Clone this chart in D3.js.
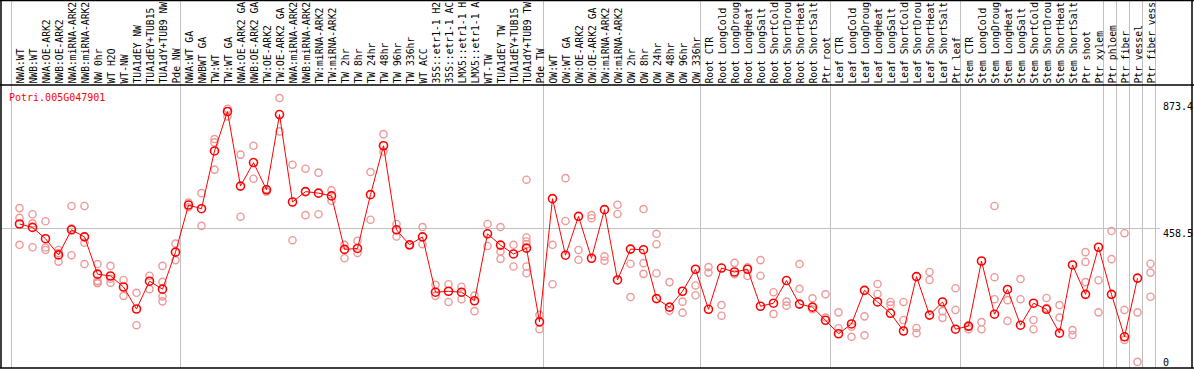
<!DOCTYPE html>
<html>
<head>
<meta charset="utf-8">
<script src="https://cdn.jsdelivr.net/npm/d3@7"></script>
<style>
  html, body { margin: 0; padding: 0; background: #fff; }
  svg { display: block; font-family: "DejaVu Sans Mono", monospace; }
</style>
</head>
<body>
<div id="chart"></div>
<script>
// expression of one gene across samples
const geneName = 'Potri.005G047901';

// labels as they show in the header (cut to 14 characters)
const samples = [
  'NWA:WT', 'NWB:WT', 'NWA:OE-ARK2', 'NWB:OE-ARK2', 'NWA:miRNA-ARK2', 'NWB:miRNA-ARK2',
  'NW 0hr', 'WT H2O', 'WT-NW', 'TUA1dEY NW', 'TUA1dEY+TUB15', 'TUA1dY+TUB9 NW', 'Pde NW',
  'NWA:WT GA', 'NWBWT GA', 'TW:WT', 'TW:WT GA', 'NWA:OE-ARK2 GA', 'NWB:OE-ARK2 GA',
  'TW:OE-ARK2', 'TW:OE-ARK2 GA', 'NWA:miRNA-ARK2', 'NWB:miRNA-ARK2', 'TW:miRNA-ARK2',
  'TW:miRNA-ARK2', 'TW 2hr', 'TW 8hr', 'TW 24hr', 'TW 48hr', 'TW 96hr', 'TW 336hr',
  'WT ACC', '35S::etr1-1 H2', '35S::etr1-1 AC', 'LMX5::etr1-1 H', 'LMX5::etr1-1 A',
  'WT-TW', 'TUA1dEY TW', 'TUA1dEY+TUB15', 'TUA1dY+TUB9 TW', 'Pde TW',
  'OW:WT', 'OW:WT GA', 'OW:OE-ARK2', 'OW:OE-ARK2 GA', 'OW:miRNA-ARK2', 'OW:miRNA-ARK2',
  'OW 2hr', 'OW 8hr', 'OW 24hr', 'OW 48hr', 'OW 96hr', 'OW 336hr',
  'Root CTR', 'Root LongCold', 'Root LongDroug', 'Root LongHeat', 'Root LongSalt',
  'Root ShortCold', 'Root ShortDrou', 'Root ShortHeat', 'Root ShortSalt', 'Ptr root',
  'Leaf CTR', 'Leaf LongCold', 'Leaf LongDroug', 'Leaf LongHeat', 'Leaf LongSalt',
  'Leaf ShortCold', 'Leaf ShortDrou', 'Leaf ShortHeat', 'Leaf ShortSalt', 'Ptr leaf',
  'Stem CTR', 'Stem LongCold', 'Stem LongDroug', 'Stem LongHeat', 'Stem LongSalt',
  'Stem ShortCold', 'Stem ShortDrou', 'Stem ShortHeat', 'Stem ShortSalt',
  'Ptr shoot', 'Ptr xylem', 'Ptr phloem', 'Ptr fiber', 'Ptr vessel', 'Ptr fiber vess'
];

const means = [
  471, 460, 423, 370, 452, 429, 307, 301, 265, 193, 284, 258, 379,
  533, 521, 710, 839, 595, 672, 583, 829, 543, 577, 572, 563, 388, 391, 567, 727,
  452, 403, 429, 248, 251, 248, 220, 439, 402, 373, 392, 151,
  554, 369, 496, 359, 518, 288, 389, 387, 227, 199, 251, 323,
  192, 327, 314, 323, 202, 212, 286, 209, 199, 156,
  112, 144, 254, 216, 179, 121, 299, 173, 216, 127,
  137, 350, 176, 257, 140, 212, 192, 114, 337,
  241, 395, 241, 102, 294
];

const replicates = [
  [523, 491, 403], [503, 473, 395], [480, 394, 386], [386, 348, 376], [530, 369, 457],
  [530, 410, 340], [340, 285, 279, 277], [334, 279, 292], [288, 236], [246, 140],
  [302, 258], [334, 282, 234, 218], [407, 353],
  [541, 526], [572, 465], [749, 738, 649], [848, 823], [698, 495], [727, 619],
  [585, 577], [883, 774], [665, 418], [652, 500], [639, 503], [581, 547],
  [403, 359], [416, 376], [641, 485], [765, 708], [471, 430], [403, 400],
  [461, 405], [272, 236], [274, 216], [266, 225], [237, 186],
  [471, 399], [461, 381, 357], [403, 332], [616, 427, 414, 405, 332, 310], [174, 127],
  [403, 274], [621, 481], [386, 354], [500, 490], [365, 351], [534, 504],
  [341, 232], [520, 343, 308], [439, 405, 310], [281, 187], [217, 181], [270, 238],
  [312, 330], [206, 171], [344, 307], [329, 301], [353, 302], [248, 177], [217, 204],
  [340, 259], [228, 192], [241, 165], [182, 130],
  [135, 102], [169, 107], [275, 242], [216, 206], [216, 157], [114, 131], [314, 288],
  [186, 164], [261, 190], [127, 134],
  [150, 127], [530, 297, 225], [222, 154], [291, 225], [157, 127], [229, 196],
  [206, 165], [124, 108], [379, 347, 281],
  [287, 182], [448, 356], [441, 190, 92], [182, 20], [341, 312, 233]
];

// sample index after which a group separator is drawn
const groupBreaks = [0, 13, 41, 53, 63, 73, 84, 85, 86, 87, 88];
const yTicks = [0, 458.5, 873.4];

const width = 1194;
const height = 370;
const headerBottom = 85;
const plotBottom = 368;
const colW = 13;

const svg = d3.select('#chart')
  .append('svg')
  .attr('width', width)
  .attr('height', height);

const x = d3.scaleLinear().domain([0, samples.length]).range([10.5, 10.5 + colW * samples.length]);
const y = d3.scaleLinear().domain([0, 873.4]).range([plotBottom, 101]);
const px = (i) => x(i) + 9;

// group separators
svg.append('g')
  .selectAll('line')
  .data(groupBreaks)
  .join('line')
  .attr('x1', (d) => Math.round(x(d)) + 0.5)
  .attr('x2', (d) => Math.round(x(d)) + 0.5)
  .attr('y1', 0)
  .attr('y2', plotBottom)
  .attr('stroke', '#c0c0c0')
  .attr('stroke-width', 1);

// mid gridline
svg.append('line')
  .attr('x1', 1).attr('x2', 1160)
  .attr('y1', Math.round(y(458.5)) + 0.5)
  .attr('y2', Math.round(y(458.5)) + 0.5)
  .attr('stroke', '#c0c0c0');

// frame
const frame = svg.append('g').attr('stroke', '#000').attr('stroke-width', 1.5);
frame.append('line').attr('x1', 0).attr('x2', width).attr('y1', 0.5).attr('y2', 0.5);
frame.append('line').attr('x1', 0).attr('x2', width).attr('y1', headerBottom).attr('y2', headerBottom);
frame.append('line').attr('x1', 0).attr('x2', width).attr('y1', plotBottom).attr('y2', plotBottom);
frame.append('line').attr('x1', 1).attr('x2', 1).attr('y1', 0).attr('y2', plotBottom);
frame.append('line').attr('x1', 1192).attr('x2', 1192).attr('y1', 0).attr('y2', plotBottom);

// sample labels
svg.append('g')
  .selectAll('text')
  .data(samples)
  .join('text')
  .attr('transform', (d, i) => `translate(${px(i) + 4},83.5) rotate(-90)`)
  .attr('font-size', 9.7)
  .attr('fill', '#000')
  .text((d) => d);

// right-side value labels
svg.append('g')
  .selectAll('text')
  .data(yTicks)
  .join('text')
  .attr('x', 1163)
  .attr('y', (d) => Math.min(y(d) + 9, 366))
  .attr('font-size', 10)
  .attr('fill', '#000')
  .text((d) => d);

svg.append('text')
  .attr('x', 9)
  .attr('y', 101)
  .attr('font-size', 10)
  .attr('fill', '#f00')
  .text(geneName);

// replicates
const repPoints = [];
replicates.forEach((vals, i) => vals.forEach((v) => repPoints.push({ i, v })));
svg.append('g')
  .selectAll('circle')
  .data(repPoints)
  .join('circle')
  .attr('cx', (d) => px(d.i))
  .attr('cy', (d) => y(d.v))
  .attr('r', 3.6)
  .attr('fill', 'none')
  .attr('stroke', '#ee9999')
  .attr('stroke-width', 1.4);

// mean line
const line = d3.line().x((d, i) => px(i)).y((d) => y(d));
svg.append('path')
  .attr('d', line(means))
  .attr('fill', 'none')
  .attr('stroke', '#f00')
  .attr('stroke-width', 1);

svg.append('g')
  .selectAll('circle')
  .data(means)
  .join('circle')
  .attr('cx', (d, i) => px(i))
  .attr('cy', (d) => y(d))
  .attr('r', 4)
  .attr('fill', 'none')
  .attr('stroke', '#f00')
  .attr('stroke-width', 1.6);
</script>
</body>
</html>
